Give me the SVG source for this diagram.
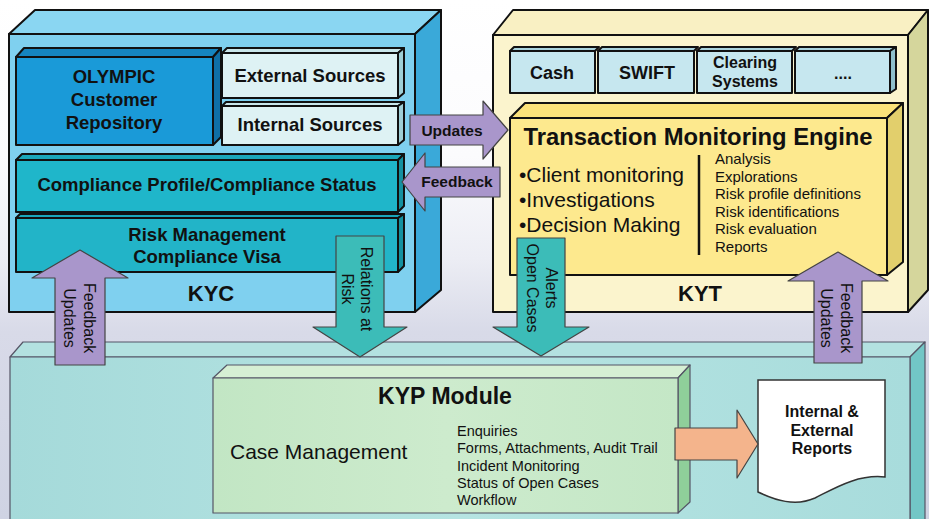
<svg xmlns="http://www.w3.org/2000/svg" width="929" height="519" viewBox="0 0 929 519">
<defs>
<linearGradient id="bg" x1="0" y1="0" x2="0" y2="1">
<stop offset="0" stop-color="#ffffff"/>
<stop offset="0.3" stop-color="#fbfbfd"/>
<stop offset="0.5" stop-color="#ecedf4"/>
<stop offset="0.64" stop-color="#d8dae8"/>
<stop offset="1" stop-color="#cfd3e3"/>
</linearGradient>
<linearGradient id="kypf" x1="0" y1="0" x2="1" y2="0">
<stop offset="0" stop-color="#a5dada"/>
<stop offset="0.5" stop-color="#b6e4e2"/>
<stop offset="1" stop-color="#a8dcdc"/>
</linearGradient>
<linearGradient id="modf" x1="0" y1="0" x2="1" y2="0">
<stop offset="0" stop-color="#c2e6c4"/>
<stop offset="0.5" stop-color="#cdebcd"/>
<stop offset="1" stop-color="#c4e7c6"/>
</linearGradient>
</defs>
<style>
.o{stroke:#111;stroke-width:2;stroke-linejoin:round}
.g{stroke:#556;stroke-width:1.2;stroke-linejoin:round}
.t{font-family:"Liberation Sans",Arial,sans-serif;fill:#111}
.b{font-weight:bold}
.m{text-anchor:middle}
.arr{stroke:#444;stroke-width:1.2;stroke-linejoin:round}
.pur{fill:#a996cb}
.teal{fill:#3cbcb8}
.rt{font-family:"Liberation Sans",Arial,sans-serif;fill:#111;font-size:16px;text-anchor:middle}
</style>
<rect x="0" y="0" width="929" height="519" fill="url(#bg)"/>

<g id="kyc">
<polygon class="o" fill="#8ad6f2" points="9,34 35,10 441,10 415,34"/>
<polygon class="o" fill="#3aa9d9" points="415,34 441,10 441,290 415,312"/>
<rect class="o" fill="#7fd0ef" x="9" y="34" width="406" height="278"/>
<g id="olympic">
<polygon class="o" fill="#1585c0" points="16,57 24,48 221,48 213,57"/>
<polygon class="o" fill="#0f6fa6" points="213,57 221,48 221,137 213,145"/>
<rect class="o" fill="#1a9ad8" x="16" y="57" width="197" height="88"/>
<text class="t b m" font-size="18.5" x="114" y="83">OLYMPIC</text>
<text class="t b m" font-size="18.5" x="114" y="106">Customer</text>
<text class="t b m" font-size="18.5" x="114" y="129">Repository</text>
</g>
<g id="external">
<polygon class="o" fill="#c9e6ea" points="222,53 227,48 404,48 398,53"/>
<polygon class="o" fill="#9fcfd6" points="398,53 404,48 404,93 398,98"/>
<rect class="o" fill="#def2f4" x="222" y="53" width="176" height="45"/>
<text class="t b m" font-size="18.5" x="310" y="82">External Sources</text>
</g>
<g id="internal">
<polygon class="o" fill="#c9e6ea" points="222,106 226,102 404,102 398,106"/>
<polygon class="o" fill="#9fcfd6" points="398,106 404,102 404,140 398,145"/>
<rect class="o" fill="#def2f4" x="222" y="106" width="176" height="39"/>
<text class="t b m" font-size="18.5" x="310" y="131">Internal Sources</text>
</g>
<g id="compliance">
<polygon class="o" fill="#1aa6ba" points="16,160 22,154 404,154 398,160"/>
<polygon class="o" fill="#15909f" points="398,160 404,154 404,206 398,212"/>
<rect class="o" fill="#1fb6ca" x="16" y="160" width="382" height="52"/>
<text class="t b m" font-size="18.5" x="207" y="191">Compliance Profile/Compliance Status</text>
</g>
<g id="risk">
<polygon class="o" fill="#1aa6ba" points="16,218 20,214 404,214 398,218"/>
<polygon class="o" fill="#15909f" points="398,218 404,214 404,266 398,272"/>
<rect class="o" fill="#22b4c8" x="16" y="218" width="382" height="54"/>
<text class="t b m" font-size="18.5" x="207" y="241">Risk Management</text>
<text class="t b m" font-size="18.5" x="207" y="263">Compliance Visa</text>
</g>
<text class="t b m" font-size="22" x="211" y="301">KYC</text>
</g>

<g id="kyt">
<polygon class="o" fill="#f9f0c3" points="493,35 513,10 928,10 908,35"/>
<polygon class="o" fill="#d5d69c" points="908,35 928,10 928,290 908,312"/>
<rect class="o" fill="#fbf4cd" x="493" y="35" width="415" height="277"/>
<g id="cash">
<polygon class="o" fill="#a9d3dd" points="510,51 514,47 599,47 595,51"/>
<rect class="o" fill="#c6e7ef" x="510" y="51" width="85" height="42"/>
<text class="t b m" font-size="18" x="552" y="79">Cash</text>
</g>
<g id="swift">
<polygon class="o" fill="#a9d3dd" points="598,51 602,47 698,47 694,51"/>
<rect class="o" fill="#c6e7ef" x="598" y="51" width="96" height="42"/>
<text class="t b m" font-size="18" x="647" y="79">SWIFT</text>
</g>
<g id="clearing">
<polygon class="o" fill="#a9d3dd" points="697,51 701,47 796,47 792,51"/>
<rect class="o" fill="#c6e7ef" x="697" y="51" width="95" height="42"/>
<text class="t b m" font-size="16" x="745" y="68">Clearing</text>
<text class="t b m" font-size="16" x="745" y="87">Systems</text>
</g>
<g id="more">
<polygon class="o" fill="#a9d3dd" points="795,51 799,47 896,47 890,51"/>
<polygon class="o" fill="#8fc0cc" points="890,51 896,47 896,89 890,93"/>
<rect class="o" fill="#c6e7ef" x="795" y="51" width="95" height="42"/>
<text class="t b m" font-size="16" x="843" y="79">....</text>
</g>
<g id="tme">
<polygon class="o" fill="#fbe27a" points="510,118 525,103 903,103 887,118"/>
<polygon class="o" fill="#e2cf6c" points="887,118 903,103 903,262 887,275"/>
<rect class="o" fill="#fde98e" x="510" y="118" width="377" height="157"/>
<text class="t b m" font-size="23.8" x="698" y="145">Transaction Monitoring Engine</text>
<text class="t" font-size="21" x="519" y="182">•Client monitoring</text>
<text class="t" font-size="21" x="519" y="207">•Investigations</text>
<text class="t" font-size="21" x="519" y="232">•Decision Making</text>
<line x1="699" y1="155" x2="699" y2="255" stroke="#111" stroke-width="2.5"/>
<text class="t" font-size="15" x="715" y="164">Analysis</text>
<text class="t" font-size="15" x="715" y="182">Explorations</text>
<text class="t" font-size="15" x="715" y="199">Risk profile definitions</text>
<text class="t" font-size="15" x="715" y="217">Risk identifications</text>
<text class="t" font-size="15" x="715" y="234">Risk evaluation</text>
<text class="t" font-size="15" x="715" y="252">Reports</text>
</g>
<text class="t b m" font-size="22" x="700" y="301">KYT</text>
</g>

<g id="kyp">
<polygon class="g" fill="#b3e1e0" points="10,357 23,342 925,342 910,357"/>
<polygon class="g" fill="#72c6c6" points="910,357 925,342 925,530 910,530"/>
<rect class="g" fill="url(#kypf)" x="10" y="357" width="900" height="175"/>
<g id="kyp-module">
<polygon class="g" fill="#d6efd4" points="213,378 227,365 690,365 678,378"/>
<polygon class="g" fill="#8fcf9a" points="678,378 690,365 690,502 678,513"/>
<rect class="g" fill="url(#modf)" x="213" y="378" width="465" height="135"/>
<text class="t b m" font-size="23" x="445" y="404">KYP Module</text>
<text class="t" font-size="21" x="230" y="459">Case Management</text>
<text class="t" font-size="14.5" x="457" y="436">Enquiries</text>
<text class="t" font-size="14.5" x="457" y="453">Forms, Attachments, Audit Trail</text>
<text class="t" font-size="14.5" x="457" y="471">Incident Monitoring</text>
<text class="t" font-size="14.5" x="457" y="488">Status of Open Cases</text>
<text class="t" font-size="14.5" x="457" y="505">Workflow</text>
</g>
<g id="reports">
<path d="M758,380 H885 V477 C858,474 835,488 815,498 C795,507 775,500 758,492 Z" fill="#ffffff" stroke="#333" stroke-width="1.5"/>
<text class="t b m" font-size="16" x="822" y="417">Internal &amp;</text>
<text class="t b m" font-size="16" x="822" y="436">External</text>
<text class="t b m" font-size="16" x="822" y="454">Reports</text>
</g>
</g>

<g id="connectors">
<g id="updates">
<polygon class="arr pur" points="410,115 483,115 483,101 508,130 483,159 483,145 410,145"/>
<text class="t b m" font-size="15.5" x="452" y="136">Updates</text>
</g>
<g id="feedback">
<polygon class="arr pur" points="402,182 425,153 425,167 500,167 500,197 425,197 425,211"/>
<text class="t b m" font-size="15.5" x="457" y="187">Feedback</text>
</g>
<g id="relations">
<polygon class="arr teal" points="336,236 384,236 384,327 407,327 360,357 313,327 336,327"/>
<text class="rt" transform="translate(361,289) rotate(90)">Relations at</text>
<text class="rt" transform="translate(342,289) rotate(90)">Risk</text>
</g>
<g id="alerts">
<polygon class="arr teal" points="517,238 565,238 565,327 589,327 541,356 493,327 517,327"/>
<text class="rt" transform="translate(546,288) rotate(90)">Alerts</text>
<text class="rt" transform="translate(527,288) rotate(90)">Open Cases</text>
</g>
<g id="feedback-left">
<polygon class="arr pur" points="80,250 128,278 105,278 105,365 55,365 55,278 32,278"/>
<text class="rt" transform="translate(84,318) rotate(90)">Feedback</text>
<text class="rt" transform="translate(64,318) rotate(90)">Updates</text>
</g>
<g id="feedback-right">
<polygon class="arr pur" points="838,252 888,281 862,281 862,363 814,363 814,281 788,281"/>
<text class="rt" transform="translate(841,318) rotate(90)">Feedback</text>
<text class="rt" transform="translate(821,318) rotate(90)">Updates</text>
</g>
<g id="to-reports">
<polygon class="arr" fill="#f4b48c" points="675,428 737,428 737,410 758,444 737,478 737,460 675,460"/>
</g>
</g>
</svg>
